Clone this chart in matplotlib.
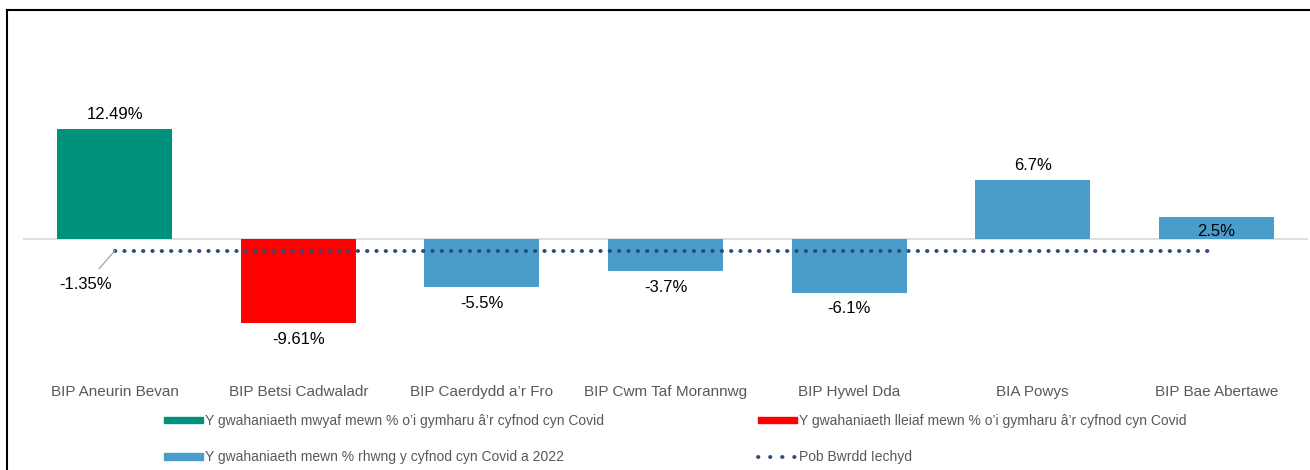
import matplotlib.pyplot as plt
from matplotlib.patches import Patch
from matplotlib.lines import Line2D

plt.rcParams['font.family'] = ['Liberation Sans', 'DejaVu Sans']

categories = ["BIP Aneurin Bevan", "BIP Betsi Cadwaladr", "BIP Caerdydd a\u2019r Fro",
              "BIP Cwm Taf Morannwg", "BIP Hywel Dda", "BIA Powys", "BIP Bae Abertawe"]
values = [12.49, -9.61, -5.5, -3.7, -6.1, 6.7, 2.5]
labels = ["12.49%", "-9.61%", "-5.5%", "-3.7%", "-6.1%", "6.7%", "2.5%"]
kinds = ["max", "min", "other", "other", "other", "other", "other"]
all_boards = -1.35

legend_labels = [
    "Y gwahaniaeth mwyaf mewn % o\u2019i gymharu \u00e2\u2019r cyfnod cyn Covid",
    "Y gwahaniaeth lleiaf mewn % o\u2019i gymharu \u00e2\u2019r cyfnod cyn Covid",
    "Y gwahaniaeth mewn % rhwng y cyfnod cyn Covid a 2022",
    "Pob Bwrdd Iechyd",
]

colours = {"max": "#00917D", "min": "#FF0000", "other": "#4A9CCA"}
navy = "#2E4A7D"

W, H = 1310, 470
fig = plt.figure(figsize=(W / 100, H / 100), dpi=100)
# axes in pixel coordinates: x 23..1308, y 30..370 (from top)
ax = fig.add_axes([23 / W, 1 - 370 / H, (1308 - 23) / W, 340 / H])

x = list(range(len(categories)))
ax.bar(x, values, width=0.626, color=[colours[k] for k in kinds], zorder=2)
ax.axhline(0, color="#D9D9D9", lw=1.2, zorder=1)
dots = (0, (0.1, 2.3))
ax.plot([x[0], x[-1] - 0.03], [all_boards, all_boards], color=navy, lw=2.8,
        linestyle=dots, dash_capstyle="round", zorder=3)

ax.set_xlim(-0.5, len(categories) - 0.5)
ax.set_ylim(-14.9, 23.75)
for s in ax.spines.values():
    s.set_visible(False)
ax.set_yticks([])
ax.set_xticks(x)
ax.set_xticklabels(categories, fontsize=11, color="#595959")
ax.tick_params(axis="x", length=0, pad=10.5)

for xi, v, lab in zip(x, values, labels):
    if v >= 0:
        y = v + 1.6 if v > 3 else v - 1.7
    else:
        y = v - 1.8
    ax.text(xi, y, lab, ha="center", va="center", fontsize=12, color="black", zorder=4)

# label for the all-boards line with a leader
ax.annotate("-1.35%", xy=(x[0], all_boards), xytext=(x[0] - 0.16, all_boards - 3.8),
            ha="center", va="center", fontsize=12,
            arrowprops=dict(arrowstyle="-", color="#A6A6A6", lw=0.9,
                            shrinkA=5, shrinkB=0))

h_max = Patch(color=colours["max"])
h_min = Patch(color=colours["min"])
h_other = Patch(color=colours["other"])
h_line = Line2D([0], [0], color=navy, lw=2.8, linestyle=(0, (0.1, 3.0)),
                dash_capstyle="round")
# legend fills column by column, so order so rows read max|min, other|line
fig.legend([h_max, h_other, h_min, h_line],
           [legend_labels[0], legend_labels[2], legend_labels[1], legend_labels[3]],
           loc="center", ncol=2,
           bbox_to_anchor=(675 / W, 1 - 439 / H), frameon=False,
           fontsize=10, labelcolor="#595959", handlelength=2.8, handleheight=0.38,
           handletextpad=0.15, columnspacing=11.1, labelspacing=1.6)

# border lines on left and top
fig.add_artist(Line2D([7 / W, 7 / W], [0, 1 - 10 / H], color="black", lw=1.5))
fig.add_artist(Line2D([7 / W, 1], [1 - 10 / H, 1 - 10 / H], color="black", lw=1.5))

fig.savefig("out.png", dpi=100)
